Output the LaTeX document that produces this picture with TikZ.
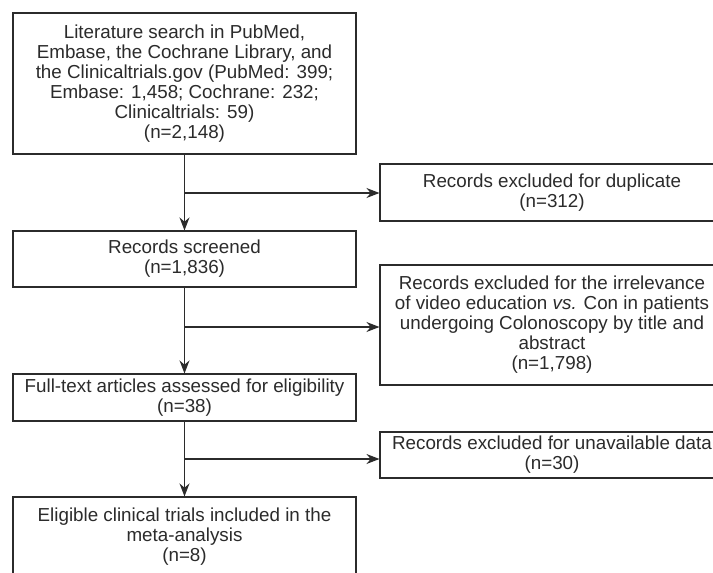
\documentclass[tikz,border=0pt]{standalone}
\usepackage{fontspec}
\setmainfont{Liberation Sans}
\usepackage{xcolor}
\usetikzlibrary{arrows.meta,positioning,calc}
\definecolor{ink}     {HTML}{2B2B2B}
\definecolor{paper}   {HTML}{FFFFFF}

\tikzset{
  flowbox/.style={draw=ink,line width=1.1pt,fill=paper,text=ink,
                  align=center,inner sep=2pt,
                  font=\fontsize{18.8}{20}\selectfont},
  flowarr/.style={draw=ink,line width=1.1pt,-{Stealth[length=13pt,width=10pt]}}
}

\begin{document}
\begin{tikzpicture}[x=1pt,y=-1pt]
  \useasboundingbox (0,0) rectangle (713,573);
  \clip (0,0) rectangle (713,573);
  % left column
  \node[flowbox,minimum width=343pt,minimum height=141pt] (search) at (184.5,83.5)
    {Literature search in PubMed,\\
     Embase, the Cochrane Library, and\\
     the Clinicaltrials.gov (PubMed: 399;\\
     Embase: 1,458; Cochrane: 232;\\
     Clinicaltrials: 59)\\
     (n=2,148)};
  \node[flowbox,minimum width=343pt,minimum height=56pt] (screened) at (184.5,259)
    {Records screened\\(n=1,836)};
  \node[flowbox,minimum width=343pt,minimum height=47pt] (fulltext) at (184.5,397.5)
    {Full-text articles assessed for eligibility\\(n=38)};
  \node[flowbox,minimum width=343pt,minimum height=80pt] (eligible) at (184.5,537)
    {Eligible clinical trials included in the\\meta-analysis\\(n=8)};
  % right column
  \node[flowbox,minimum width=344pt,minimum height=57pt] (dupl) at (552,192.5)
    {Records excluded for duplicate\\(n=312)};
  \node[flowbox,minimum width=344pt,minimum height=120pt] (irrel) at (552,325)
    {Records excluded for the irrelevance\\
     of video education \textit{vs.} Con in patients\\
     undergoing Colonoscopy by title and\\
     abstract\\
     (n=1,798)};
  \node[flowbox,minimum width=344pt,minimum height=46pt] (unavail) at (552,455)
    {Records excluded for unavailable data\\(n=30)};
  % branch points
  \coordinate (b1) at (search.south |- 0,193);
  \coordinate (b2) at (search.south |- 0,327);
  \coordinate (b3) at (search.south |- 0,459);
  % arrows
  \draw[flowarr] (search.south) -- (screened.north);
  \draw[flowarr] (screened.south) -- (fulltext.north);
  \draw[flowarr] (fulltext.south) -- (eligible.north);
  \draw[flowarr] (b1) -- (b1 -| dupl.west);
  \draw[flowarr] (b2) -- (b2 -| irrel.west);
  \draw[flowarr] (b3) -- (b3 -| unavail.west);
\end{tikzpicture}
\end{document}
